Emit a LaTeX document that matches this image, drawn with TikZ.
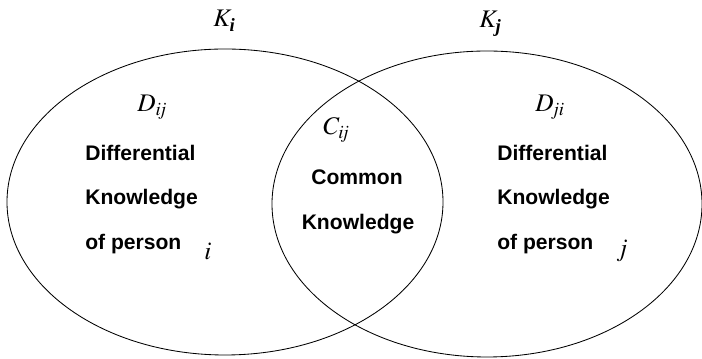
\documentclass[tikz,border=0pt]{standalone}
\usepackage{amsmath}
\usepackage{mathptmx}
\usepackage{fontspec}
\setmainfont{Liberation Serif}
\newfontfamily\labelfont{Liberation Sans}
\usetikzlibrary{positioning}
\tikzset{%
	kset/.style     = {draw, line width=0.6pt}, % Knowledge set
	setname/.style  = {inner sep=0pt, anchor=base west, font=\fontsize{18}{21}\selectfont},
	bodytext/.style = {inner sep=0pt, anchor=base west, font=\labelfont\bfseries\fontsize{15}{18}\selectfont},
	midtext/.style  = {bodytext, anchor=base},
}

\begin{document}
\begin{tikzpicture}[x=0.025cm, y=0.025cm]
	\useasboundingbox (0,0) rectangle (702,359);
	% the two persons
	\draw[kset] (225,157) ellipse [x radius=218, y radius=153];
	\draw[kset] (487,155) ellipse [x radius=215, y radius=153];
	\node[setname] (Ki) at (213,332) {$K_{\text{\bfseries\itshape i}}$};
	\node[setname] (Kj) at (479,331) {$K_{\text{\bfseries\itshape j}}$};
	% person i
	\node[setname] (Dij) at (137,247) {$D_{\mathit{ij}}$};
	\node[bodytext] (diffL) at (85,198) {Differential};
	\node[bodytext] (knowL) at (85,154) {Knowledge};
	\node[bodytext] (persL) at (85,109) {of person};
	\node[setname, anchor=base] (pi) at (208,99) {$i$};
	% common part
	\node[setname] (Cij) at (323,224) {$C_{\mathit{ij}}$};
	\node[midtext] (comm) at (357,174) {Common};
	\node[midtext] (knowC) at (358,129) {Knowledge};
	% person j
	\node[setname] (Dji) at (535,247) {$D_{\mathit{ji}}$};
	\node[bodytext] (diffR) at (497,198) {Differential};
	\node[bodytext] (knowR) at (497,154) {Knowledge};
	\node[bodytext] (persR) at (497,109) {of person};
	\node[setname, anchor=base] (pj) at (622,102) {$j$};
\end{tikzpicture}
\end{document}
